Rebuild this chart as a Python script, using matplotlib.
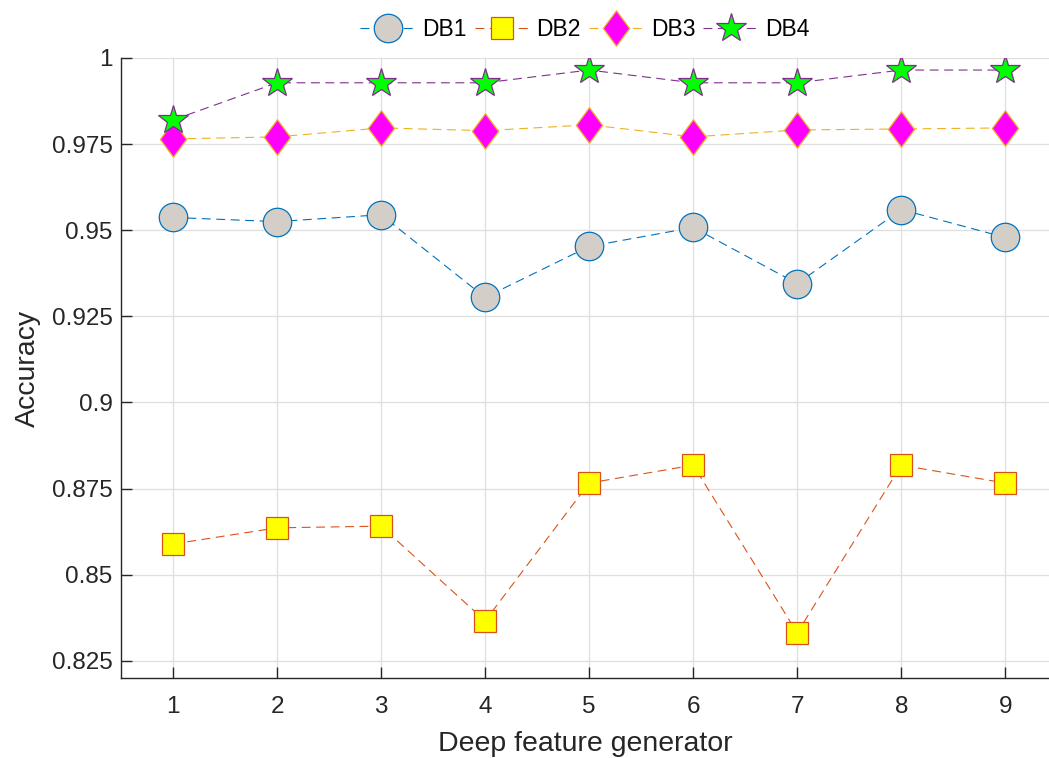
import numpy as np
import matplotlib as mpl
mpl.use('Agg')
import matplotlib.pyplot as plt
from matplotlib.path import Path

plt.rcParams['font.family'] = ['Liberation Sans', 'DejaVu Sans']

generators = [1, 2, 3, 4, 5, 6, 7, 8, 9]
db1 = [0.9537, 0.9525, 0.9545, 0.9305, 0.9453, 0.9508, 0.9345, 0.9560, 0.9479]
db2 = [0.8589, 0.8636, 0.8641, 0.8366, 0.8766, 0.8818, 0.8331, 0.8818, 0.8766]
db3 = [0.9765, 0.9771, 0.9797, 0.9789, 0.9806, 0.9771, 0.9791, 0.9794, 0.9797]
db4 = [0.9820, 0.9928, 0.9928, 0.9928, 0.9965, 0.9928, 0.9928, 0.9965, 0.9965]

# taller-than-wide diamond like matlab's
diamond = Path([(0, 1), (0.74, 0), (0, -1), (-0.74, 0), (0, 1)],
               [Path.MOVETO, Path.LINETO, Path.LINETO, Path.LINETO, Path.CLOSEPOLY])

series = [
    ('DB1', db1, 'o', '#0072BD', '#D3CFC8', 20.5),
    ('DB2', db2, 's', '#D95319', '#FFFF00', 16),
    ('DB3', db3, diamond, '#EDB120', '#FF00FF', 25.5),
    ('DB4', db4, '*', '#7E2F8E', '#00FF00', 22),
]

fig = plt.figure(figsize=(10.49, 7.58), dpi=100)
ax = fig.add_axes([0.1153, 0.1055, 0.8847, 0.818])

for name, vals, mk, lc, fc, ms in series:
    ax.plot(generators, vals, linestyle='--', dashes=(8, 5), linewidth=0.8,
            color=lc, marker=mk, markersize=ms, markerfacecolor=fc,
            markeredgecolor=lc, markeredgewidth=0.9, label=name)

ax.set_xlim(0.5, 9.42)
ax.set_ylim(0.82, 1.0)
ax.set_xticks(generators)
ax.set_yticks([0.825, 0.85, 0.875, 0.9, 0.925, 0.95, 0.975, 1.0])
ax.set_yticklabels(['0.825', '0.85', '0.875', '0.9', '0.925', '0.95', '0.975', '1'])
ax.grid(True, color='#DFDFDF', linewidth=0.9)
ax.set_axisbelow(True)
for s in ['top', 'right']:
    ax.spines[s].set_visible(False)
for s in ['left', 'bottom']:
    ax.spines[s].set_color('#262626')
    ax.spines[s].set_linewidth(1.0)
ax.tick_params(direction='in', length=8, width=1.0, colors='#262626',
               labelsize=17.5)
ax.tick_params(axis='x', pad=13)
ax.tick_params(axis='y', pad=6)
ax.set_xlabel('Deep feature generator', fontsize=20.5, color='#262626', labelpad=9)
ax.set_ylabel('Accuracy', fontsize=20.5, color='#262626', labelpad=8)

ax.legend(loc='lower center', bbox_to_anchor=(0.5, 1.0), ncol=4, frameon=False,
          fontsize=16.5, handlelength=2.4, columnspacing=0.35, handletextpad=0.3,
          borderaxespad=0.35)

fig.savefig('out.png', dpi=100)
